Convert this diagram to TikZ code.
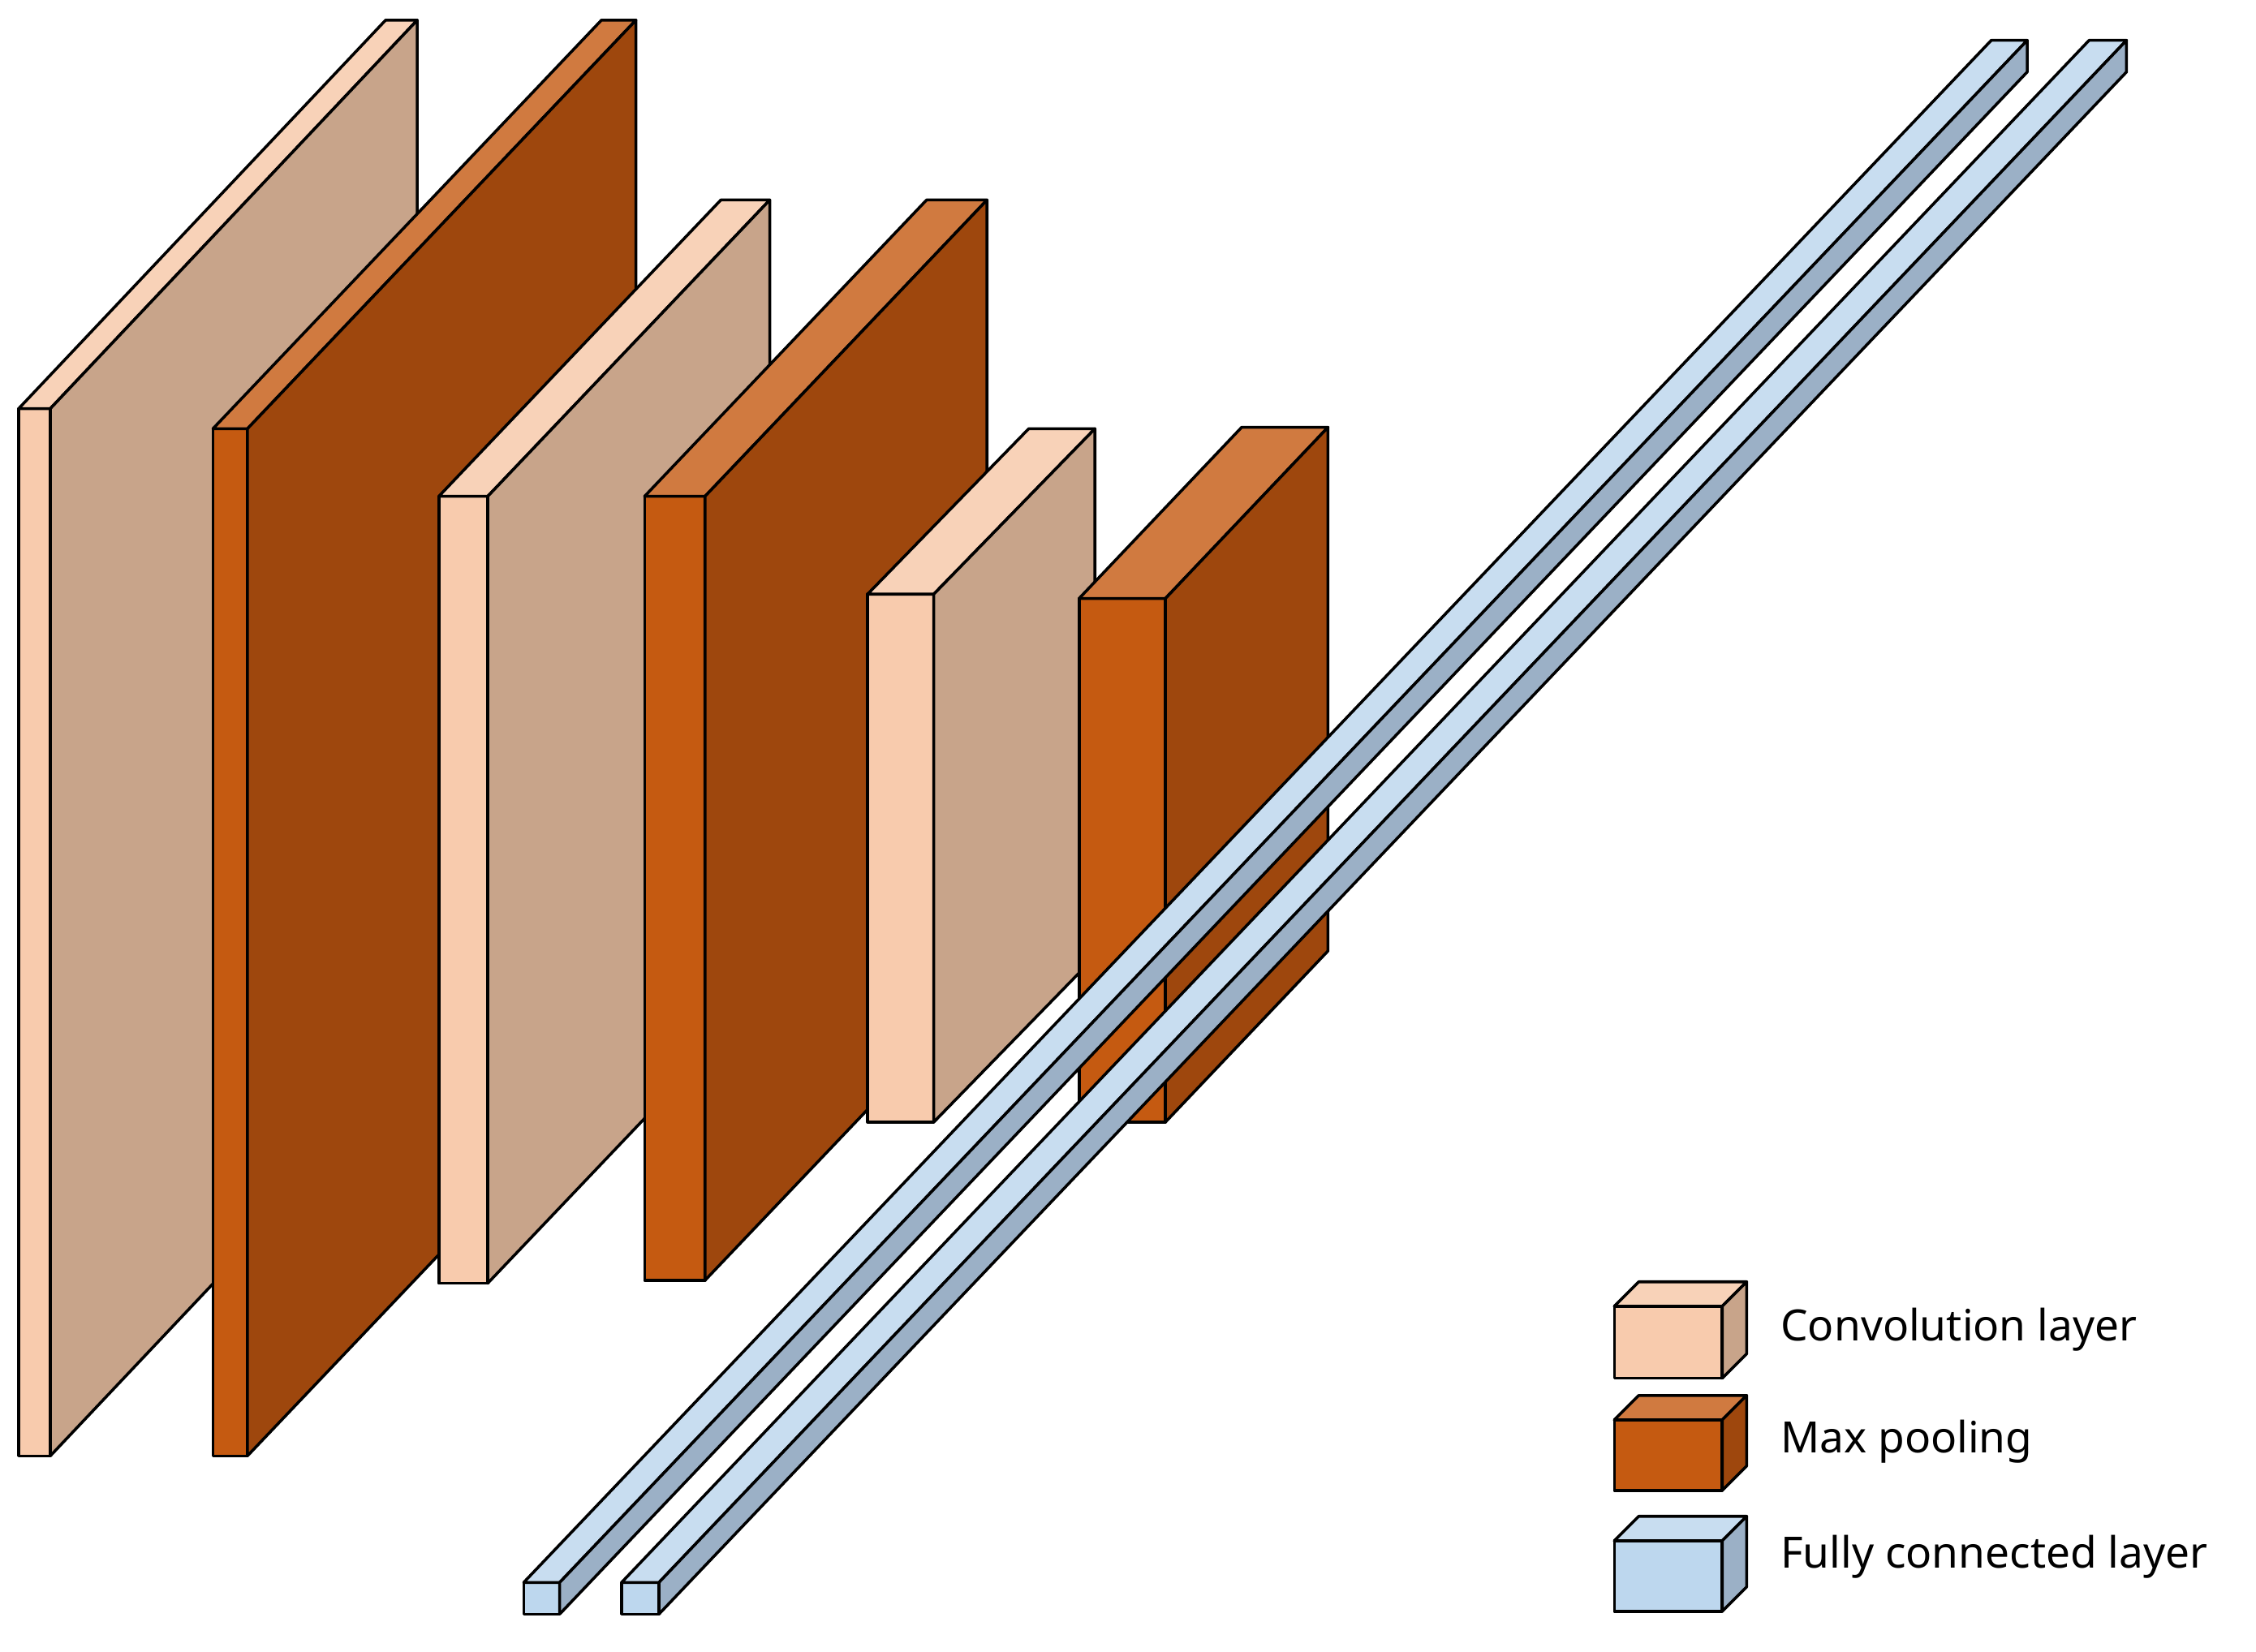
\documentclass[tikz,border=0pt]{standalone}
\usepackage{fontspec}
\setmainfont{Noto Sans}
\definecolor{cF}{HTML}{F8CBAD}\definecolor{cT}{HTML}{F8D2B8}\definecolor{cS}{HTML}{C8A48A}
\definecolor{pF}{HTML}{C55A11}\definecolor{pT}{HTML}{D07A40}\definecolor{pS}{HTML}{9E470D}
\definecolor{fF}{HTML}{BDD7EE}\definecolor{fT}{HTML}{C8DDF0}\definecolor{fS}{HTML}{9BB0C6}
\newcommand{\cub}[9]{%
 \filldraw[fill=#7] (#1,#3) rectangle (#2,#4);
 \filldraw[fill=#8] (#1,#3) -- ++(#5,#6) -- ($(#2,#3)+(#5,#6)$) -- (#2,#3) -- cycle;
 \filldraw[fill=#9] (#2,#3) -- ++(#5,#6) -- ($(#2,#4)+(#5,#6)$) -- (#2,#4) -- cycle;}
\usetikzlibrary{calc}
\begin{document}
\begin{tikzpicture}[x=0.5pt,y=-0.5pt,line width=1pt,line join=round,
 lbl/.style={anchor=west,font=\fontsize{15}{18}\selectfont\bfseries}]
\useasboundingbox (0,0) rectangle (1568,1148);
\cub{13}{35}{284}{1012}{255}{-270}{cF}{cT}{cS}
\cub{148}{172}{298}{1012}{270}{-284}{pF}{pT}{pS}
\cub{305}{339}{345}{892}{196}{-206}{cF}{cT}{cS}
\cub{448}{490}{345}{890}{196}{-206}{pF}{pT}{pS}
\cub{603}{649}{413}{780}{112}{-115}{cF}{cT}{cS}
\cub{750}{810}{416}{780}{113}{-119}{pF}{pT}{pS}
\cub{364}{389}{1100}{1122}{1020}{-1072}{fF}{fT}{fS}
\cub{432}{458}{1100}{1122}{1020}{-1072}{fF}{fT}{fS}
\cub{1122}{1197}{908}{958}{17}{-17}{cF}{cT}{cS}
\cub{1122}{1197}{987}{1036}{17}{-17}{pF}{pT}{pS}
\cub{1122}{1197}{1071}{1120}{17}{-17}{fF}{fT}{fS}
\node[lbl] (l1) at (1230,924) {Convolution layer};
\node[lbl] (l2) at (1230,1002) {Max pooling};
\node[lbl] (l3) at (1230,1082) {Fully connected layer};
\end{tikzpicture}
\end{document}
